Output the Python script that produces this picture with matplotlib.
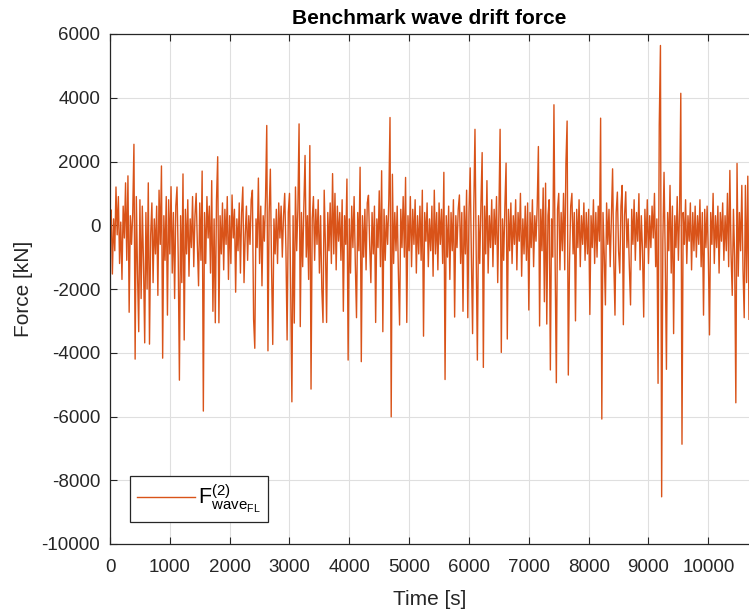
import matplotlib
matplotlib.use("Agg")
import matplotlib.pyplot as plt
import numpy as np

# Second-order wave drift force, sampled every 20 s [kN]
dt = 20.0
force = [
    # 0 - 980 s
    300, 480, -1530, 200, -800, 1200, -300, 900, -1200, 100,
    -1700, 600, -400, 1330, -1100, 1550, -2730, 300, -600, 400,
    2540, -4200, 900, -1500, -3340, 800, -2300, 600, -1200, -3690,
    400, -2000, 1330, -3730, -300, 700, -1800, 200, -900, 600,
    -2200, 1100, -600, 1860, -4170, 300, -1100, 900, -2820, 800,
    # 1000 - 1980 s
    -900, 1210, -1500, 400, -2300, 600, 1200, -1000, -4860, 300,
    -1800, 1610, -3600, 500, -900, 800, -1600, 200, -700, 900,
    -1300, 300, 1000, -600, -1900, 700, -1100, 1700, -5830, 400,
    -1200, 900, -400, 600, -1500, 1400, -2700, 200, -3060, 800,
    2150, -3060, 300, -900, 700, -1400, 500, -600, 900, -1700,
    # 2000 - 2980 s
    300, -1200, 950, -400, 500, -2100, 200, -800, 700, -1500,
    400, 1200, -1800, -300, 600, -1100, 300, -600, 800, 1100,
    -2950, -3860, 200, -700, 1480, -1200, 600, -1900, 300, -500,
    900, 3130, -3940, 400, 1760, -1300, -3740, 200, -900, 500,
    -1200, 700, -400, 600, -1000, 300, 1000, -700, -3600, 400,
    # 3000 - 3980 s
    1000, -2000, -5540, 300, -3070, 1200, -800, 500, 3180, -3180,
    400, -1300, 600, 2190, -1000, 300, -1700, 2500, -5140, 200,
    900, -1100, 500, -600, 800, -1500, 300, -2000, -3050, 1100,
    -600, -3050, 400, -800, 700, -1200, 1620, -900, 1000, -1400,
    600, -500, 400, -1100, 800, -2700, 300, -600, 1450, -4230,
    # 4000 - 4980 s
    200, -1500, 600, -700, 900, -1200, -2900, 400, -800, 1820,
    -4280, 300, -1000, 500, -1400, 700, 940, -600, -1800, 400,
    -900, 600, -3050, 200, -700, 1080, -1300, 1710, -3340, 500,
    -1100, 300, -600, 800, 3380, -6010, 1600, -1200, 400, -800,
    600, -1500, -3130, 500, -700, 900, -1000, 1500, -3050, 300,
    # 5000 - 5980 s
    -800, 900, -1300, 500, -600, 800, -1500, 300, -900, 600,
    -1100, 1100, -3480, 400, -500, 700, -1300, 200, -800, 600,
    -1600, 1100, -900, 400, -1400, 700, -600, 500, -1200, 1660,
    -4840, 300, -1000, 600, -1700, 400, -800, 800, -2880, 300,
    -700, 500, 950, -1200, 400, -2700, 600, -900, 1100, -2900,
    # 6000 - 6980 s
    400, 1800, -1000, -3400, 500, 3010, -800, -4230, 300, -1200,
    700, 2280, -4460, 600, -900, 1400, -1500, 300, -700, 800,
    -1300, 500, -600, 900, -1800, 400, 3010, -3990, 200, -1100,
    600, 1950, -3570, 500, -800, 700, -1200, 300, -600, 800,
    -1400, 400, -500, 1000, -1600, 200, -900, 600, -1100, 700,
    # 7000 - 7980 s
    -2660, 400, -700, 800, -1300, 300, -500, 600, 2470, -3160,
    500, -800, 1170, -2400, 1320, -3100, 300, 800, -4540, 200,
    -1000, 3780, -1200, -4940, 500, 1000, -1400, 400, -800, 1000,
    -1400, 1940, 3270, -4700, -1200, 600, 1000, -900, 400, -3000,
    500, -700, 800, -1300, 300, -600, 700, -1100, 400, -900,
    # 8000 - 8980 s
    500, -2800, 300, -700, 800, -1200, 400, -1000, 600, -500,
    3360, -6080, 400, -900, -2500, 700, -600, 500, -1300, 300,
    1770, -1100, -2820, 400, 1040, -800, -1500, 600, 1250, -3120,
    300, 1050, -700, 200, -1300, -2500, 500, -600, 800, -1100,
    400, -500, 990, -1400, 300, -800, -2880, 500, -700, 800,
    # 9000 - 9980 s
    -1200, 300, -700, 600, -400, 1000, -1300, 200, -4960, 3150,
    5640, -8520, -500, 1660, -1000, -4520, 400, -800, 1250, -1500,
    600, -3400, 300, -700, 900, -1100, 500, 4140, -6870, 400,
    -600, 800, -1200, 300, -500, 700, -1400, 400, -800, 600,
    -1000, 300, -600, 800, -1300, 400, -2820, 500, -700, 600,
    # 10000 - 10680 s
    -900, -3440, 400, -600, 1000, -1200, 300, -700, 600, -1500,
    400, -500, 700, -1100, 300, -800, 1000, -1300, 1720, -900,
    -2200, 500, -1000, -5570, 1940, -1600, 400, -800, 1250, -1400,
    -2900, 1250, -1800, 1540, -2950,
]
time = dt * np.arange(len(force))

y_ticks = [-10000, -8000, -6000, -4000, -2000, 0, 2000, 4000, 6000]
x_ticks = [0, 1000, 2000, 3000, 4000, 5000, 6000, 7000, 8000, 9000, 10000]

plt.rcParams["font.family"] = ["Liberation Sans", "DejaVu Sans"]
plt.rcParams["mathtext.fontset"] = "custom"
plt.rcParams["mathtext.rm"] = "Liberation Sans"
plt.rcParams["axes.unicode_minus"] = False

fig = plt.figure(figsize=(7.49, 6.10), dpi=100)
ax = fig.add_axes([110 / 749, 66 / 610, 639 / 749, 510 / 610])

dark = "#262626"
ax.plot(time, force, color="#D95319", linewidth=1.0,
        label=r"$\mathregular{F^{(2)}_{wave_{FL}}}$")

ax.set_xlim(0, 10680)
ax.set_ylim(-10000, 6000)
ax.set_xticks(x_ticks)
ax.set_yticks(y_ticks)
ax.grid(True, color="#dfdfdf", linewidth=0.8)
ax.set_axisbelow(True)

for side in ("left", "bottom", "top"):
    ax.spines[side].set_color(dark)
    ax.spines[side].set_linewidth(0.9)
ax.spines["right"].set_visible(False)
ax.tick_params(direction="in", top=True, right=False, length=5,
               color=dark, labelcolor=dark, labelsize=13.5)
ax.tick_params(axis="x", pad=11)
ax.tick_params(axis="y", pad=7)

ax.set_xlabel("Time [s]", fontsize=15, color=dark, labelpad=10)
ax.set_ylabel("Force [kN]", fontsize=15, color=dark, labelpad=6)
ax.set_title("Benchmark wave drift force", fontsize=15, fontweight="bold",
             color="black", pad=7)

leg = ax.legend(loc="lower left", bbox_to_anchor=(0.031, 0.043),
                borderaxespad=0, fontsize=15.5, handlelength=2.7,
                handletextpad=0.15, borderpad=0.33,
                fancybox=False, framealpha=1, edgecolor=dark)
leg.get_frame().set_linewidth(0.9)

fig.savefig("out.png", dpi=100)
